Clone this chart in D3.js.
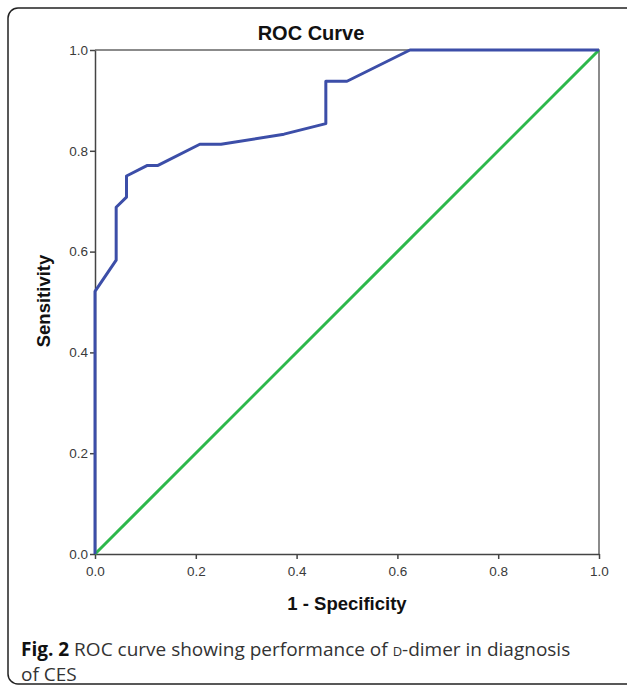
<!DOCTYPE html>
<html>
<head>
<meta charset="utf-8">
<script src="https://cdn.jsdelivr.net/npm/d3@7"></script>
<style>
  body { margin: 0; background: #fff; }
  svg { display: block; }
</style>
</head>
<body>
<svg id="chart" width="627" height="687"></svg>
<script>
// ROC points (1 - specificity, sensitivity)
const fpr = [0, 0, 0.042, 0.042, 0.0625, 0.0625, 0.104, 0.125, 0.208, 0.25, 0.375, 0.458, 0.458, 0.5, 0.625, 1]
const tpr = [0, 0.521, 0.583, 0.688, 0.708, 0.75, 0.771, 0.771, 0.813, 0.813, 0.833, 0.854, 0.938, 0.938, 1, 1]
const refLine = [0, 1]
const tickValues = [0, 0.2, 0.4, 0.6, 0.8, 1.0]

const svg = d3.select('#chart')
const margin = ({ top: 50, right: 28, bottom: 133, left: 95 })
const width = 627, height = 687

// outer frame of the figure
svg.append('rect')
    .attr('x', 8).attr('y', 8)
    .attr('width', 640).attr('height', 676)
    .attr('rx', 10)
    .attr('fill', 'none')
    .attr('stroke', '#222')
    .attr('stroke-width', 1.5)

const x = d3.scaleLinear().domain([0, 1]).range([margin.left, width - margin.right])
const y = d3.scaleLinear().domain([0, 1]).range([height - margin.bottom, margin.top])

// plot border (top and right)
svg.append('path')
    .attr('d', `M${x(0)},${y(1)}H${x(1)}V${y(0)}`)
    .attr('fill', 'none')
    .attr('stroke', '#666')
    .attr('stroke-width', 1.5)

const xAxis = svg.append('g')
    .attr('transform', `translate(0,${y(0)})`)
    .call(d3.axisBottom(x).tickValues(tickValues).tickFormat(d3.format('.1f')).tickSize(5).tickSizeOuter(0))
const yAxis = svg.append('g')
    .attr('transform', `translate(${x(0)},0)`)
    .call(d3.axisLeft(y).tickValues(tickValues).tickFormat(d3.format('.1f')).tickSize(5).tickSizeOuter(0))

for (const ax of [xAxis, yAxis]) {
    ax.select('.domain').attr('stroke', '#444').attr('stroke-width', 1.5)
    ax.selectAll('.tick line').attr('stroke', '#444').attr('stroke-width', 1.5)
    ax.selectAll('.tick text')
        .attr('fill', '#3a3a3a')
        .style('font', '13.5px "Liberation Sans", Arial, sans-serif')
}
xAxis.selectAll('.tick text').attr('dy', '0.71em').attr('y', 12)
yAxis.selectAll('.tick text').attr('x', -7)

// reference diagonal
svg.append('path')
    .datum(refLine)
    .attr('d', d3.line().x(d => x(d)).y(d => y(d)))
    .attr('fill', 'none')
    .attr('stroke', '#2db84b')
    .attr('stroke-width', 3)

// ROC curve
const rocData = fpr.map((f, i) => ({ f: f, t: tpr[i] }))
svg.append('path')
    .datum(rocData)
    .attr('d', d3.line().x(d => x(d.f)).y(d => y(d.t)))
    .attr('fill', 'none')
    .attr('stroke', '#3c4ea8')
    .attr('stroke-width', 3)
    .attr('stroke-linejoin', 'round')

// titles
svg.append('text')
    .attr('x', 311).attr('y', 40)
    .attr('text-anchor', 'middle')
    .style('font', 'bold 20px "Liberation Sans", Arial, sans-serif')
    .attr('fill', '#111')
    .text('ROC Curve')

svg.append('text')
    .attr('x', 347).attr('y', 610)
    .attr('text-anchor', 'middle')
    .style('font', 'bold 18.5px "Liberation Sans", Arial, sans-serif')
    .attr('fill', '#111')
    .text('1 - Specificity')

svg.append('text')
    .attr('transform', 'translate(50,301) rotate(-90)')
    .attr('text-anchor', 'middle')
    .style('font', 'bold 18.5px "Liberation Sans", Arial, sans-serif')
    .attr('fill', '#111')
    .text('Sensitivity')

// caption
const cap = svg.append('text')
    .attr('x', 21).attr('y', 656)
    .style('font', '19px "Open Sans", sans-serif')
    .attr('fill', '#333')
cap.append('tspan').style('font-weight', 'bold').attr('fill', '#111').text('Fig. 2')
cap.append('tspan').text(' ROC curve showing performance of ')
cap.append('tspan').style('font-variant', 'small-caps').text('d')
cap.append('tspan').text('-dimer in diagnosis')

svg.append('text')
    .attr('x', 21).attr('y', 681)
    .style('font', '19px "Open Sans", sans-serif')
    .attr('fill', '#333')
    .text('of CES')
</script>
</body>
</html>
